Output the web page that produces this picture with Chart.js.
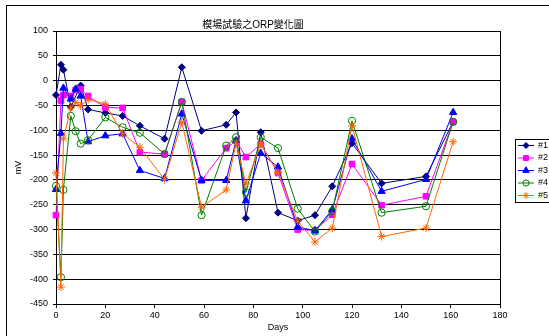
<!DOCTYPE html>
<html>
<head>
<meta charset="utf-8">
<script src="https://cdn.jsdelivr.net/npm/chart.js@4.4.1/dist/chart.umd.min.js"></script>
<style>
html,body{margin:0;padding:0;background:#fff;}
#wrap{width:549px;height:336px;position:relative;}
</style>
</head>
<body>
<div id="wrap"><canvas id="c" width="549" height="336"></canvas></div>
<script>
const chartTitle = '模場試驗之ORP變化圖';
const xTitle = 'Days';
const yTitle = 'mV';
const seriesNames = ['#1', '#2', '#3', '#4', '#5'];
const days = [0, 2, 3, 6, 8, 10, 13, 20, 27, 34, 44, 51, 59, 69, 73, 77, 83, 90, 98, 105, 112, 120, 132, 150, 161];
const orp1 = [-29, 32, 22, -53, null, -10, -58, -65, -71, -91, -117, 27, -101, -89, -64, -277, -104, -266, -282, -271, -213, -126, -207, -193, -83];
const orp2 = [-271, -40, -29, -31, -19, -17, -31, -54, -55, -144, -148, -43, -201, -136, -121, -154, -128, -186, -300, -302, -270, -168, -251, -233, -83];
const orp3 = [-219, -106, -15, -37, -17, -31, -123, -111, -107, -181, -197, -67, -201, -201, -121, -242, -146, -174, -295, -302, -260, -117, -223, -199, -64];
const orp4 = [-212, -396, -220, -71, -102, -127, -120, -74, -94, -105, -148, -43, -271, -131, -114, -225, -114, -136, -258, -304, -263, -81, -266, -253, -83];
const orp5 = [-186, -416, -117, -55, -44, -51, -38, -47, -107, -134, -199, -84, -255, -220, -126, -208, -128, -185, -283, -325, -297, -91, -314, -297, -123];
const xTicks = {min: 0, max: 180, step: 20};
const yTicks = {min: -450, max: 100, step: 50};

const colors = ['#000080', '#FF00FF', '#0000FF', '#008000', '#FF6600'];
const fills = ['#000080', '#FF00FF', '#0000FF', 'rgba(0,0,0,0)', '#FF6600'];
const styles = ['rectRot', 'rect', 'triangle', 'circle', 'star'];
const radii = [3.5, 4, 4.2, 3.6, 4];
const allValues = [orp1, orp2, orp3, orp4, orp5];

const FONT = "'Liberation Sans', Arial, 'Noto Sans CJK TC', sans-serif";

function pts(vals) {
  return days.map((d, i) => ({x: d, y: vals[i]}));
}

const datasets = allValues.map((vals, i) => ({
  label: seriesNames[i],
  data: pts(vals),
  borderColor: colors[i],
  backgroundColor: fills[i],
  pointBorderColor: colors[i],
  pointBackgroundColor: fills[i],
  pointStyle: styles[i],
  pointRadius: radii[i],
  pointBorderWidth: 1,
  borderWidth: 1,
  tension: 0,
  spanGaps: true,
  clip: false,
  order: 5 - i
}));

const framePlugin = {
  id: 'frame',
  beforeDraw(chart) {
    const ctx = chart.ctx;
    ctx.save();
    ctx.fillStyle = '#fff';
    ctx.fillRect(0, 0, chart.width, chart.height);
    ctx.strokeStyle = '#000';
    ctx.lineWidth = 1;
    ctx.strokeRect(6.5, 5.5, 700, 500);
    ctx.restore();
  },
  beforeDatasetsDraw(chart) {
    const {ctx, chartArea: a} = chart;
    ctx.save();
    ctx.strokeStyle = '#000';
    ctx.lineWidth = 1;
    ctx.strokeRect(Math.round(a.left) + 0.5, Math.round(a.top) + 0.5, Math.round(a.right - a.left), Math.round(a.bottom - a.top));
    ctx.restore();
  },
  afterDraw(chart) {
    const ctx = chart.ctx;
    ctx.save();
    const bx = 515.5, by = 139.5;
    ctx.strokeStyle = '#000';
    ctx.lineWidth = 1;
    ctx.strokeRect(bx, by, 60, 63);
    ctx.font = '9px ' + FONT;
    ctx.textBaseline = 'middle';
    ctx.textAlign = 'left';
    seriesNames.forEach((name, i) => {
      const y = 145.5 + i * 12.5;
      ctx.strokeStyle = colors[i];
      ctx.lineWidth = 1;
      ctx.beginPath();
      ctx.moveTo(518, y);
      ctx.lineTo(534, y);
      ctx.stroke();
      ctx.fillStyle = fills[i];
      ctx.strokeStyle = colors[i];
      Chart.helpers.drawPoint(ctx, {pointStyle: styles[i], radius: radii[i] - 0.5, borderWidth: 1, rotation: 0}, 526, y);
      ctx.fillStyle = '#000';
      ctx.fillText(name, 538, y);
    });
    ctx.restore();
  }
};

new Chart(document.getElementById('c'), {
  type: 'line',
  data: {datasets},
  plugins: [framePlugin],
  options: {
    responsive: false,
    animation: false,
    devicePixelRatio: 1,
    layout: {padding: {left: 6, right: 49, top: 0, bottom: 0}},
    plugins: {
      legend: {display: false},
      tooltip: {enabled: false},
      title: {
        display: true,
        text: chartTitle,
        color: '#000',
        font: {family: FONT, size: 10, weight: 'normal'},
        padding: {top: 19, bottom: 0}
      }
    },
    scales: {
      x: {
        type: 'linear',
        min: xTicks.min,
        max: xTicks.max,
        afterFit(s) { s.height = 32; },
        afterBuildTicks(s) {
          const t = [];
          for (let v = xTicks.min; v <= xTicks.max; v += xTicks.step) t.push({value: v});
          s.ticks = t;
        },
        ticks: {
          color: '#000',
          font: {family: FONT, size: 9},
          padding: 2,
          maxRotation: 0,
          autoSkip: false
        },
        grid: {drawOnChartArea: false, drawTicks: true, tickLength: 4, color: '#000'},
        border: {color: '#000', width: 1},
        title: {
          display: true,
          text: xTitle,
          color: '#000',
          font: {family: FONT, size: 9},
          padding: {top: 0, bottom: 3}
        }
      },
      y: {
        type: 'linear',
        min: yTicks.min,
        max: yTicks.max,
        afterFit(s) { s.width = 50; },
        afterBuildTicks(s) {
          const t = [];
          for (let v = yTicks.min; v <= yTicks.max; v += yTicks.step) t.push({value: v});
          s.ticks = t;
        },
        ticks: {
          color: '#000',
          font: {family: FONT, size: 9},
          padding: 5,
          autoSkip: false
        },
        grid: {color: '#000', lineWidth: 1, tickLength: 3, drawTicks: true},
        border: {color: '#000', width: 1},
        title: {
          display: true,
          text: yTitle,
          color: '#000',
          font: {family: FONT, size: 9},
          padding: {top: 7, bottom: 0}
        }
      }
    }
  }
});
</script>
</body>
</html>
